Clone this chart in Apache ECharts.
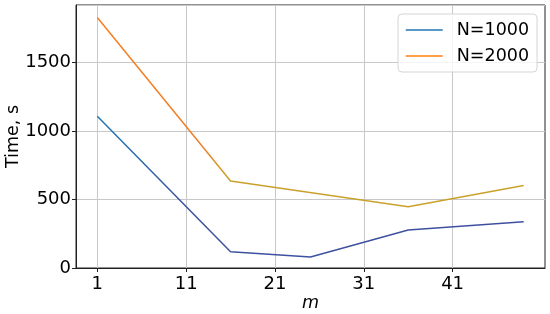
<!DOCTYPE html>
<html>
<head>
<meta charset="utf-8">
<script src="https://cdn.jsdelivr.net/npm/echarts@6/dist/echarts.min.js"></script>
<style>
  html, body { margin: 0; padding: 0; background: #fff; }
  #main { width: 550px; height: 314px; }
</style>
</head>
<body>
<div id="main"></div>
<script>
// m values and timings
const m1000 = [1, 16, 25, 36, 49]
const t1000 = [1107, 119, 80, 277, 337]
const m2000 = [1, 16, 36, 49]
const t2000 = [1826, 634, 447, 602]
const xTicks = [1, 11, 21, 31, 41]

const font = 'DejaVu Sans'
const axisColor = '#222'
const gridColor = '#c8c8c8'

function pairs(xs, ys) {
  return xs.map((x, i) => [x, ys[i]])
}

// the lines shift hue a little along their length in the picture
function grad(stops) {
  return {
    type: 'linear', x: 0, y: 0, x2: 1, y2: 0,
    colorStops: stops.map(s => ({ offset: s[0], color: s[1] }))
  }
}

const chart = echarts.init(document.getElementById('main'))
chart.setOption({
  animation: false,
  grid: {
    left: 76, right: 5, top: 5, bottom: 46,
    outerBoundsMode: 'none',
    containLabel: false,
    show: true, borderColor: axisColor, borderWidth: 1
  },
  legend: {
    left: 398, top: 14,
    orient: 'vertical',
    padding: [7, 8, 7, 7],
    itemWidth: 37, itemHeight: 14, itemGap: 8,
    borderColor: '#d5d5d5', borderWidth: 1, borderRadius: 4,
    backgroundColor: 'rgba(255,255,255,0.8)',
    itemStyle: { opacity: 0 },
    textStyle: { fontFamily: font, fontSize: 17.5, color: '#000', padding: [0, 0, 0, 9], lineHeight: 18 },
    data: [
      { name: 'N=1000', lineStyle: { color: '#1f77b4', width: 1.5, opacity: 1 } },
      { name: 'N=2000', lineStyle: { color: '#ff7f0e', width: 1.5, opacity: 1 } }
    ]
  },
  xAxis: {
    type: 'value',
    min: -1.4, max: 51.4,
    name: 'm',
    nameLocation: 'middle',
    nameGap: 26,
    nameMoveOverlap: false,
    nameTextStyle: { fontFamily: font, fontSize: 17.5, fontStyle: 'italic', color: '#000' },
    axisLine: { show: true, onZero: false, lineStyle: { color: axisColor } },
    axisTick: { show: true, length: 4, customValues: xTicks, lineStyle: { color: axisColor } },
    axisLabel: { customValues: xTicks, margin: 7, fontFamily: font, fontSize: 18, color: '#000' },
    splitLine: { show: true, lineStyle: { color: gridColor, width: 1 } }
  },
  yAxis: {
    type: 'value',
    min: 0, max: 1917.5, interval: 500,
    name: 'Time, s',
    nameLocation: 'middle',
    nameGap: 54,
    nameMoveOverlap: false,
    nameTextStyle: { fontFamily: font, fontSize: 17.5, color: '#000' },
    axisLine: { show: true, onZero: false, lineStyle: { color: axisColor } },
    axisTick: { show: true, length: 4, lineStyle: { color: axisColor } },
    axisLabel: { margin: 5, showMaxLabel: false, fontFamily: font, fontSize: 18, color: '#000', formatter: v => String(v) },
    splitLine: { show: true, lineStyle: { color: gridColor, width: 1 } }
  },
  series: [
    {
      name: 'N=1000',
      type: 'line',
      symbol: 'none',
      data: pairs(m1000, t1000),
      lineStyle: { width: 1.5, color: grad([[0, '#1f77b4'], [0.1, '#2a6aae'], [0.2, '#3d52a0'], [1, '#3d50a0']]) }
    },
    {
      name: 'N=2000',
      type: 'line',
      symbol: 'none',
      data: pairs(m2000, t2000),
      lineStyle: { width: 1.5, color: grad([[0, '#fa7d1c'], [0.24, '#f07e28'], [0.31, '#c9a02c'], [1, '#c9a22a']]) }
    }
  ]
})
</script>
</body>
</html>
